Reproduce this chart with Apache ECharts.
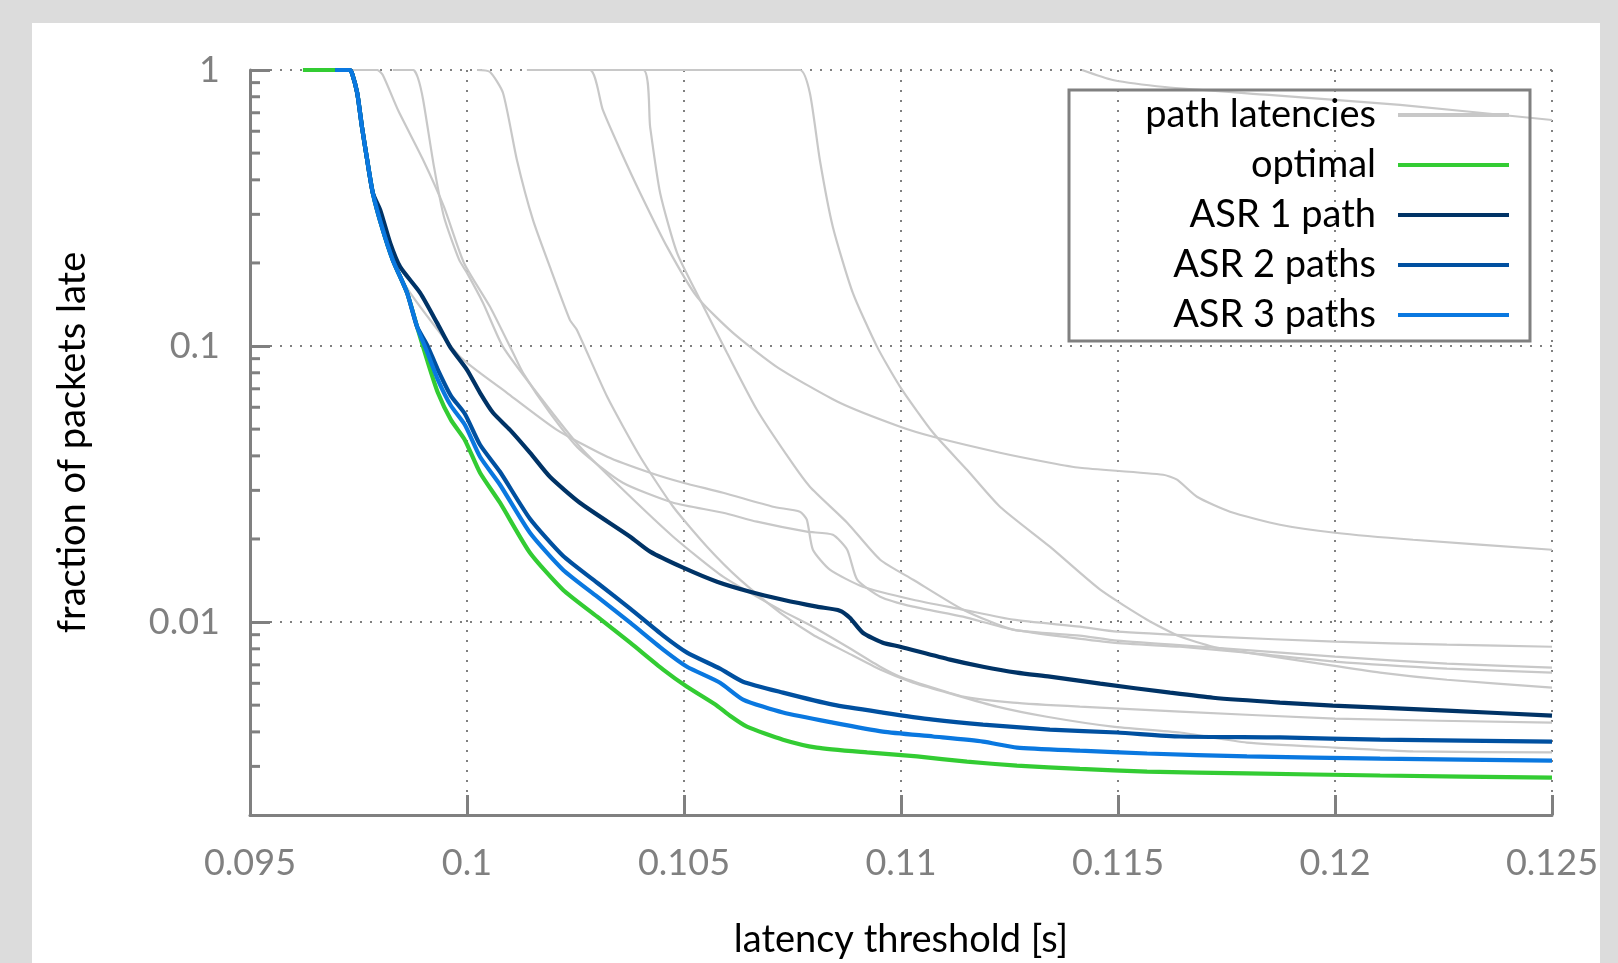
<!DOCTYPE html>
<html lang="en">
<head>
<meta charset="UTF-8">
<title>fraction of packets late</title>
<script src="https://cdn.jsdelivr.net/npm/echarts@6/dist/echarts.min.js"></script>
<style>
  html, body { margin: 0; padding: 0; background: #dcdcdc; }
  #main { width: 1618px; height: 963px; }
</style>
</head>
<body>
<div id="main"></div>
<script>
// tick labels
const xTicks = [0.095, 0.1, 0.105, 0.11, 0.115, 0.12, 0.125];
const yTicks = [0.01, 0.1, 1];
const yMinorTicks = [0.003, 0.004, 0.005, 0.006, 0.007, 0.008, 0.009,
  0.02, 0.03, 0.04, 0.05, 0.06, 0.07, 0.08, 0.09,
  0.2, 0.3, 0.4, 0.5, 0.6, 0.7, 0.8, 0.9];

// [latency threshold (s), fraction of packets late]
const optimal = [
  [0.09622,1],[0.09730,1],[0.09735,0.975],[0.09747,0.8255],[0.09758,0.6217],[0.09770,0.4722],[0.09783,0.3586],
  [0.09804,0.2701],[0.09829,0.2051],[0.09862,0.1558],[0.09885,0.1174],[0.09908,0.0891],[0.09933,0.0677],
  [0.09963,0.0540],[0.09995,0.0457],[0.10030,0.03475],[0.10076,0.02706],[0.10145,0.01783],[0.10221,0.0131],
  [0.10300,0.01046],[0.10376,0.00842],[0.10452,0.00673],[0.10507,0.00583],[0.10576,0.00498],
  [0.10606,0.00458],[0.10645,0.00418],[0.10728,0.00375],[0.10806,0.00351],[0.10922,0.00337],[0.11037,0.00326],
  [0.11152,0.00312],[0.11267,0.00302],[0.11412,0.00294],[0.11567,0.00287],[0.11797,0.00283],[0.12104,0.00278],
  [0.125,0.00273]
];
const asr1 = [
  [0.09696,1],[0.09730,1],[0.09735,0.975],[0.09747,0.8255],[0.09758,0.6217],[0.09770,0.4722],[0.09783,0.3586],
  [0.09800,0.3112],[0.09823,0.2363],[0.09846,0.1935],[0.09892,0.1558],[0.09931,0.1213],[0.09961,0.0993],
  [0.10000,0.0820],[0.10030,0.0677],[0.10060,0.0573],[0.10099,0.0497],[0.10145,0.0411],[0.10191,0.0336],
  [0.10260,0.02706],[0.10376,0.02038],[0.10422,0.01799],[0.10498,0.01574],[0.10576,0.0140],[0.10652,0.01288],[0.10728,0.01205],
  [0.10806,0.01137],[0.10859,0.0110],[0.10882,0.01037],[0.10912,0.00915],[0.10958,0.00842],[0.10998,0.00814],
  [0.11113,0.00731],[0.11189,0.00689],[0.11267,0.00656],[0.11343,0.00634],[0.11459,0.00598],[0.11620,0.00555],
  [0.11719,0.00532],[0.11873,0.00511],[0.11995,0.00498],[0.12104,0.0049],[0.12258,0.00478],[0.125,0.00458]
];
const asr2 = [
  [0.09696,1],[0.09730,1],[0.09735,0.975],[0.09747,0.8255],[0.09758,0.6217],[0.09770,0.4722],[0.09783,0.3586],
  [0.09804,0.2701],[0.09829,0.2051],[0.09862,0.1558],[0.09885,0.1174],[0.09908,0.101],[0.09933,0.0820],
  [0.09963,0.06603],[0.09995,0.05683],[0.10030,0.04389],[0.10076,0.03503],[0.10145,0.02368],[0.10221,0.01739],
  [0.10300,0.01388],[0.10376,0.01118],[0.10452,0.00893],[0.10507,0.00775],[0.10583,0.00678],[0.10636,0.00608],[0.10728,0.00555],
  [0.10843,0.00502],[0.10958,0.0047],[0.11074,0.00443],[0.11189,0.00425],[0.11343,0.00408],[0.11498,0.00398],
  [0.11643,0.00385],[0.11873,0.00382],[0.12104,0.00375],[0.125,0.00369]
];
const asr3 = [
  [0.09696,1],[0.09730,1],[0.09735,0.975],[0.09747,0.8255],[0.09758,0.6217],[0.09770,0.4722],[0.09783,0.3586],
  [0.09804,0.2701],[0.09829,0.2051],[0.09862,0.1558],[0.09885,0.1174],[0.09908,0.0953],[0.09933,0.07544],
  [0.09963,0.06075],[0.09995,0.05184],[0.10030,0.03971],[0.10076,0.03144],[0.10145,0.02107],[0.10221,0.01548],
  [0.10300,0.01236],[0.10376,0.00995],[0.10452,0.00795],[0.10507,0.00689],[0.10583,0.00603],[0.10636,0.00524],[0.10728,0.0047],
  [0.10843,0.00432],[0.10958,0.00401],[0.11074,0.00385],[0.11189,0.00369],[0.11267,0.00351],[0.11412,0.00342],
  [0.11567,0.00334],[0.11797,0.00326],[0.12104,0.0032],[0.125,0.00315]
];

// single path latencies
const pathA = [
  [0.09730,1],[0.09735,0.975],[0.09747,0.8255],[0.09758,0.6217],[0.09770,0.4722],[0.09783,0.3586],[0.09804,0.2701],
  [0.09829,0.2051],[0.09869,0.1558],[0.09984,0.0914],[0.10092,0.0677],[0.10207,0.0497],[0.10323,0.03971],
  [0.10422,0.03475],[0.10498,0.03197],[0.10590,0.02941],[0.10705,0.02617],[0.10767,0.02511],[0.10783,0.02349],
  [0.10797,0.01828],[0.10836,0.01548],[0.10912,0.01343],[0.11028,0.01205],[0.11143,0.01109],[0.11258,0.0102],
  [0.11412,0.00962],[0.11498,0.00923],[0.11719,0.00886],[0.12000,0.00849],[0.12258,0.00828],[0.125,0.00814]
];
const pathB = [
  [0.09730,1],[0.09793,1],[0.09806,0.9592],[0.09841,0.7164],[0.09899,0.4722],[0.09947,0.3192],[0.09993,0.2],
  [0.10053,0.1387],[0.10106,0.09449],[0.10129,0.07998],[0.10191,0.0573],[0.10260,0.04209],[0.10359,0.03197],
  [0.10475,0.02706],[0.10590,0.0249],[0.10668,0.0231],[0.10783,0.02125],[0.10843,0.02072],[0.10876,0.01828],
  [0.10899,0.01424],[0.10952,0.01236],[0.11028,0.01137],[0.11143,0.01046],[0.11258,0.00939],[0.11488,0.00842],
  [0.11643,0.00814],[0.11797,0.00775],[0.12000,0.00719],[0.12258,0.00678],[0.125,0.00656]
];
const pathC = [
  [0.09829,1],[0.09876,1],[0.09887,0.9355],[0.09899,0.7786],[0.09924,0.4455],[0.09947,0.2936],[0.09982,0.2051],
  [0.10000,0.1841],[0.10037,0.1433],[0.10083,0.0993],[0.10168,0.06548],[0.10260,0.04315],[0.10359,0.0302],
  [0.10475,0.02038],[0.10590,0.01461],[0.10721,0.01109],[0.10797,0.00962],[0.10876,0.00814],[0.10952,0.00689],
  [0.10998,0.00634],[0.11067,0.00583],[0.11143,0.00537],[0.11258,0.00511],[0.11412,0.00494],[0.11643,0.00474],
  [0.12000,0.00447],[0.125,0.00432]
];
const pathD = [
  [0.10023,1],[0.10053,0.9835],[0.10083,0.8255],[0.10115,0.4722],[0.10152,0.2863],[0.10191,0.1935],[0.10237,0.1244],
  [0.10253,0.1145],[0.10323,0.06548],[0.10399,0.03971],[0.10475,0.02617],[0.10553,0.01875],[0.10629,0.01424],
  [0.10721,0.01081],[0.10797,0.009],[0.10876,0.00775],[0.10952,0.00673],[0.11028,0.00603],[0.11106,0.00555],
  [0.11221,0.00494],[0.11336,0.00454],[0.11488,0.00418],[0.11643,0.00398],[0.11797,0.00366],[0.12000,0.00351],
  [0.12180,0.0034],[0.125,0.00337]
];
const pathE = [
  [0.10138,1],[0.10283,1],[0.10313,0.7164],[0.10353,0.5133],[0.10399,0.3586],[0.10461,0.2287],[0.10530,0.1507],
  [0.10613,0.1116],[0.10717,0.08337],[0.10859,0.06228],[0.10998,0.05098],[0.11074,0.04691],[0.11228,0.04106],
  [0.11343,0.03777],[0.11412,0.03622],[0.11604,0.03418],[0.11636,0.03279],[0.11682,0.02844],[0.11758,0.02511],
  [0.11873,0.02252],[0.12000,0.02107],[0.12180,0.01987],[0.125,0.01828]
];
const pathF = [
  [0.10214,1],[0.10406,1],[0.10422,0.6217],[0.10445,0.3586],[0.10484,0.2175],[0.10537,0.1470],[0.10599,0.09449],
  [0.10668,0.05875],[0.10744,0.03873],[0.10790,0.03092],[0.10876,0.02291],[0.10952,0.01682],[0.11028,0.01424],
  [0.11143,0.01109],[0.11258,0.00939],[0.11412,0.00893],[0.11498,0.00856],[0.11719,0.00808],[0.12000,0.00749],
  [0.12258,0.00707],[0.125,0.00684]
];
const pathG = [
  [0.10406,1],[0.10767,1],[0.10790,0.8255],[0.10813,0.4722],[0.10843,0.2701],[0.10889,0.1558],[0.10945,0.0993],
  [0.10998,0.07117],[0.11074,0.04849],[0.11152,0.03562],[0.11228,0.02617],[0.11343,0.01875],[0.11459,0.0131],
  [0.11567,0.0102],[0.11643,0.00886],[0.11719,0.00814],[0.11797,0.00775],[0.11949,0.00713],[0.12104,0.00656],
  [0.12258,0.00618],[0.125,0.00579]
];
const pathH = [
  [0.11417,1],[0.11488,0.920],[0.11608,0.868],[0.11848,0.812],[0.12150,0.747],[0.125,0.659]
];
const paths = [pathA, pathB, pathC, pathD, pathE, pathF, pathG, pathH];

const FONT = 'Lato, "Noto Sans", sans-serif';
const AXIS_GRAY = '#808080';

function tickLabel(list) {
  return v => {
    const t = list.find(t => Math.abs(t - v) <= t * 1e-6);
    return t === undefined ? '' : String(t);
  };
}

function lineSeries(name, data, color, width, z) {
  return {
    name: name, type: 'line', data: data, symbol: 'none', smooth: 0.2,
    lineStyle: { color: color, width: width }, itemStyle: { color: color },
    z: z, silent: true
  };
}

const chart = echarts.init(document.getElementById('main'));

const series = paths.map(p => lineSeries('path latencies', p, '#c8c8c8', 2.2, 2));
series.push(lineSeries('optimal', optimal, '#33cc33', 4.2, 3));
series.push(lineSeries('ASR 1 path', asr1, '#003366', 4.2, 3));
series.push(lineSeries('ASR 2 paths', asr2, '#0050a0', 4.2, 3));
series.push(lineSeries('ASR 3 paths', asr3, '#0a78e0', 4.2, 3));

// minor ticks on the log axis (2..9 of each decade), drawn inward from the y axis
series.push({
  type: 'custom', name: 'minor ticks', silent: true, clip: false, z: 5,
  data: yMinorTicks.map(v => [xTicks[0], v]),
  renderItem: (params, api) => {
    const p = api.coord([api.value(0), api.value(1)]);
    return {
      type: 'line',
      shape: { x1: p[0], y1: p[1], x2: p[0] + 10, y2: p[1] },
      style: { stroke: AXIS_GRAY, lineWidth: 3 }
    };
  }
});

chart.setOption({
  animation: false,
  backgroundColor: '#dcdcdc',
  graphic: [
    { type: 'rect', z: -10, silent: true,
      shape: { x: 32, y: 23, width: 1568, height: 940 }, style: { fill: '#ffffff' } },
    { type: 'rect', z: 10, silent: true,
      shape: { x: 1069, y: 90, width: 461, height: 251 },
      style: { fill: 'none', stroke: AXIS_GRAY, lineWidth: 3 } }
  ],
  grid: { left: 250, right: 66, top: 70, bottom: 148, outerBoundsMode: 'none' },
  legend: {
    orient: 'vertical', align: 'right', right: 109, top: 95, padding: 0,
    icon: 'rect', itemWidth: 111, itemHeight: 4, itemGap: 10,
    textStyle: { fontFamily: FONT, fontSize: 38, color: '#000', lineHeight: 40, padding: [0, 17, 0, 0] },
    data: ['path latencies', 'optimal', 'ASR 1 path', 'ASR 2 paths', 'ASR 3 paths'],
    selectedMode: false
  },
  xAxis: {
    type: 'value', min: 0.095, max: 0.125, interval: 0.005,
    name: 'latency threshold [s]', nameLocation: 'middle', nameGap: 106,
    nameTextStyle: { fontFamily: FONT, fontSize: 38, color: '#000' },
    axisLine: { lineStyle: { color: AXIS_GRAY, width: 3 } },
    axisTick: { inside: true, length: 20, lineStyle: { color: AXIS_GRAY, width: 3 } },
    axisLabel: { formatter: tickLabel(xTicks), margin: 30, fontFamily: FONT, fontSize: 36, color: AXIS_GRAY },
    splitLine: { show: true, lineStyle: { color: AXIS_GRAY, width: 2, type: [2, 8] } }
  },
  yAxis: {
    type: 'log', logBase: 10, min: 0.002, max: 1,
    name: 'fraction of packets late', nameLocation: 'middle', nameGap: 158,
    nameTextStyle: { fontFamily: FONT, fontSize: 38, color: '#000' },
    axisLine: { show: true, lineStyle: { color: AXIS_GRAY, width: 3 } },
    axisTick: { show: true, inside: true, length: 20, lineStyle: { color: AXIS_GRAY, width: 3 } },
    axisLabel: { formatter: tickLabel(yTicks), margin: 30, fontFamily: FONT, fontSize: 36, color: AXIS_GRAY },
    splitLine: { show: true, lineStyle: { color: AXIS_GRAY, width: 2, type: [2, 8] } }
  },
  series: series
});
</script>
</body>
</html>
